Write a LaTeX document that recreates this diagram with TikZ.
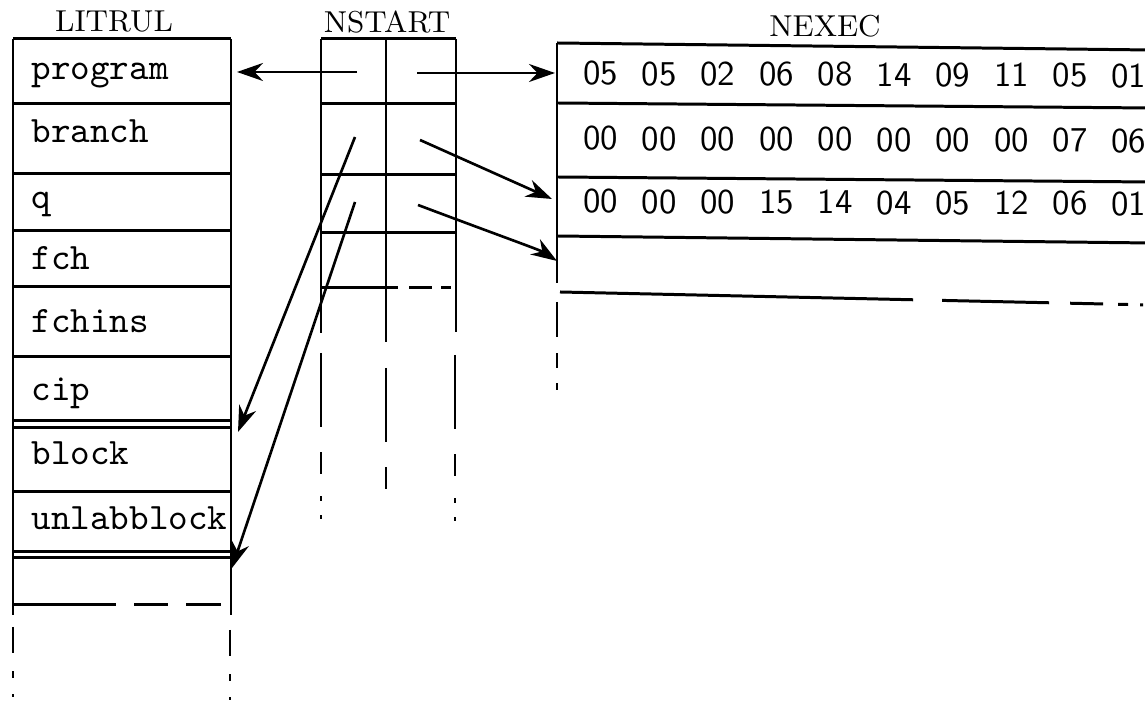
\documentclass[tikz,border=0pt]{standalone}
\usepackage{tikz}
\usetikzlibrary{arrows.meta}

\tikzset{
  grid/.style={line width=0.85pt},
  tail/.style={line width=0.85pt, dash pattern=on 0.74cm off 0.25cm on 0.22cm off 0.22cm on 0.05cm off 0.14cm on 0.04cm},
  littail/.style={line width=0.85pt, dash pattern=on 0.26cm off 0.18cm on 0.07cm off 0.16cm on 0.03cm},
  ptr/.style={line width=0.75pt, -{Stealth[length=2.6mm,width=1.8mm]}},
  title/.style={font=\fontsize{8.6}{10}\selectfont, anchor=base, inner sep=0pt},
  entry/.style={font=\ttfamily\fontsize{10.6}{12}\selectfont, anchor=base west, inner sep=0pt},
  digits/.style={font=\sffamily\fontsize{9.9}{12}\selectfont, anchor=base, inner sep=0pt},
}

\begin{document}
\begin{tikzpicture}[x=0.01cm, y=-0.01cm]
\useasboundingbox (0,0) rectangle (1145,701);
\clip (0,0) rectangle (1145,701);

% LITRUL
\node[title] (litrul) at (114,32) {LITRUL};
\foreach \y in {39,104,174,231,287,357,421,428,492,552,558}
  \draw[grid] (13,\y) -- (231,\y);
\draw[grid] (13,39) -- (13,615) (231,39) -- (231,615);
\draw[grid, dash pattern=on 1.03cm off 0.18cm on 0.34cm off 0.18cm on 0.35cm] (13,605) -- (222,605);
\draw[littail] (13,627) -- (13,701) (230,630) -- (230,701);
\foreach \t/\y [count=\i] in {program/80, branch/143, q/209, fch/270, fchins/333, cip/401, block/465, unlabblock/530}
  \node[entry] (lit\i) at (31,\y) {\t};

% NSTART
\node[title] (nstart) at (387,33) {NSTART};
\foreach \y in {39,104,175,233}
  \draw[grid] (321,\y) -- (456,\y);
\draw[grid, dash pattern=on 0.77cm off 0.11cm on 0.23cm off 0.09cm on 0.1cm] (321,288) -- (452,288);
\draw[grid] (321,39) -- (321,333) (386,39) -- (386,342) (456,39) -- (456,332);
\draw[tail] (321,353) -- (321,520) (386,368) -- (386,505) (455,355) -- (455,525);

% NEXEC
\node[title] (nexec) at (825,37) {NEXEC};
\draw[grid] (557,43) -- (1150,50);
\draw[grid] (557,103) -- (1150,108);
\draw[grid] (557,177) -- (1150,182);
\draw[grid] (557,236) -- (1150,243);
\draw[grid, dash pattern=on 3.53cm off 0.29cm on 1.07cm off 0.21cm on 0.33cm off 0.15cm on 0.1cm off 0.12cm on 0.03cm] (560,292) -- (1150,305);
\draw[grid] (557,43) -- (557,283);
\draw[grid, dash pattern=on 0.35cm off 0.16cm on 0.15cm off 0.15cm on 0.07cm] (557,302) -- (557,392);
\foreach \v [count=\i from 0] in {05,05,02,06,08,14,09,11,05,01}
  \node[digits] (ra\i) at ({600.5+58.7*\i},{85+0.25*\i}) {\v};
\foreach \v [count=\i from 0] in {00,00,00,00,00,00,00,00,07,06}
  \node[digits] (rb\i) at ({600.5+58.7*\i},{150+0.25*\i}) {\v};
\foreach \v [count=\i from 0] in {00,00,00,15,14,04,05,12,06,01}
  \node[digits] (rc\i) at ({600.5+58.7*\i},{213+0.25*\i}) {\v};

% pointers
\coordinate (pl0) at (357,72);
\coordinate (pr0) at (417,73);
\coordinate (pl1) at (355,137);
\coordinate (pr1) at (420,140);
\coordinate (pl2) at (355,202);
\coordinate (pr2) at (418,205);
\coordinate (lprog) at (237,72);
\coordinate (lblock) at (238,432);
\coordinate (lfree) at (232,568);
\coordinate (xprog) at (555,73);
\coordinate (xq) at (552,199);
\coordinate (xfree) at (557,261);
\draw[ptr] (pl0) -- (lprog);
\draw[ptr] (pr0) -- (xprog);
\draw[ptr] (pl1) -- (lblock);
\draw[ptr] (pr1) -- (xq);
\draw[ptr] (pl2) -- (lfree);
\draw[ptr] (pr2) .. controls (495,234) and (540,250) .. (xfree);
\end{tikzpicture}
\end{document}
